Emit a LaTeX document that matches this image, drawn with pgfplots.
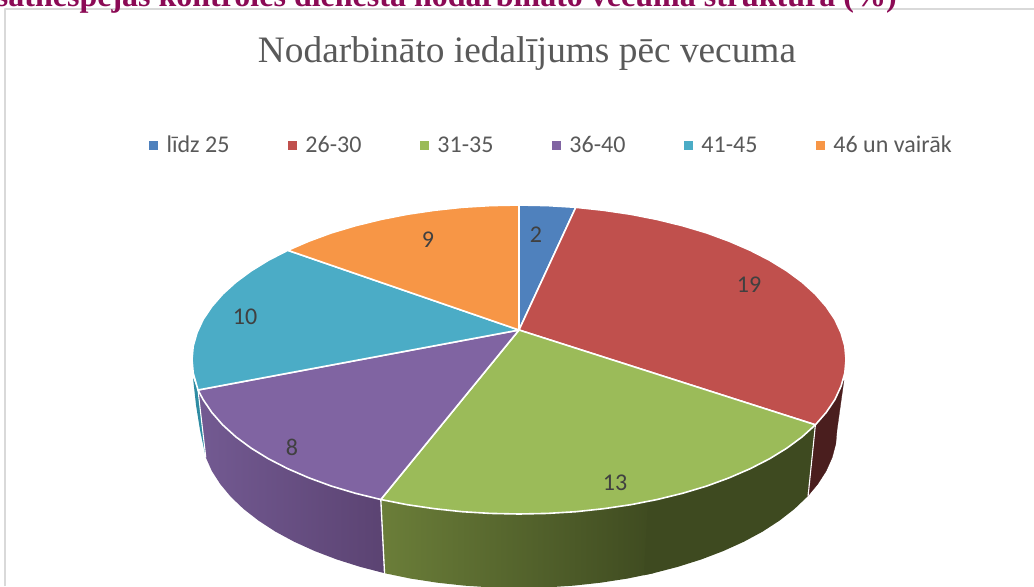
\documentclass[border=0pt]{standalone}
\usepackage{pgfplots}
\pgfplotsset{compat=1.18}
\usepackage{fontspec}
\setmainfont{Liberation Serif}
\newfontfamily\carlito{Carlito}
\definecolor{cblue}{HTML}{4F81BD}
\definecolor{cred}{HTML}{C0504D}
\definecolor{cgreen}{HTML}{9BBB59}
\definecolor{cpurple}{HTML}{8064A2}
\definecolor{cteal}{HTML}{4BACC6}
\definecolor{corange}{HTML}{F79646}
\definecolor{gdark}{HTML}{3E4A20}
\definecolor{glight}{HTML}{6B7E39}
\definecolor{pdark}{HTML}{5B4372}
\definecolor{plight}{HTML}{735A92}
\definecolor{rdark}{HTML}{4A1E1E}
\definecolor{tdark}{HTML}{2F8CA3}
\definecolor{txt}{HTML}{404040}
\tikzset{lab/.style={text=txt,font=\carlito\fontsize{18}{20}\selectfont}}
\begin{document}
\begin{tikzpicture}
\path[use as bounding box,clip] (0,0) rectangle (775.5pt,439.5pt);
\begin{axis}[
  at={(0,0)},anchor=south west,
  width=775.5pt,height=439.5pt,scale only axis,
  xmin=0,xmax=1034,ymin=0,ymax=586,y dir=reverse,
  axis lines=none,clip=true,
  legend columns=6,
  legend cell align=left,
  legend image code/.code={\path[#1,draw=none] (0pt,-3.2pt) rectangle (6.5pt,3.2pt);},
  legend style={at={(axis cs:149,145.5)},anchor=west,draw=none,fill=none,inner sep=0pt,
    font=\carlito\fontsize{18}{20}\selectfont,text=black!65,
    /tikz/every even column/.append style={column sep=42pt},
    /tikz/every odd column/.append style={column sep=4.5pt}},
]
% frame
\addplot[forget plot,draw=black!15,line width=1.5pt] coordinates {(5,586) (5,9) (1034,9)};
% walls
\addplot[forget plot,fill=rdark,draw=rdark,line width=.2pt] coordinates {(844,380) (841,386.3) (834.9,399.5) (826.3,412.3) (815.4,424.8) (807.2,496.8) (817.8,484) (826.2,470.9) (832.2,457.4) (835.8,443.8) (837,430) (844,380)};
\addplot[forget plot,left color=glight,right color=gdark,draw=none] coordinates {(657.2,499.5) (630.8,504.7) (603.6,508.7) (575.8,511.7) (547.5,513.4) (519,514) (490.5,513.4) (462.2,511.7) (434.4,508.7) (407.2,504.7) (380.8,499.5) (384.6,573.2) (410.2,578.5) (436.7,582.6) (463.8,585.6) (491.3,587.4) (519,588) (546.7,587.4) (574.2,585.6) (601.3,582.6) (627.8,578.5) (653.4,573.2) (657.2,499.5)};
\addplot[forget plot,fill=gdark,draw=none] coordinates {(815.4,424.8) (802.2,436.8) (786.9,448.1) (769.5,458.8) (750.2,468.7) (729.2,477.8) (706.6,486.1) (682.5,493.3) (657.2,499.5) (648,501.5) (644,575.2) (653.4,573.2) (678,566.8) (701.4,559.4) (723.4,551) (743.9,541.7) (762.6,531.6) (779.5,520.6) (794.4,509) (807.2,496.8) (815.4,424.8)};
\addplot[forget plot,left color=plight,right color=pdark,draw=none] coordinates {(380.8,499.5) (355.5,493.3) (331.4,486.1) (308.8,477.8) (287.8,468.7) (268.5,458.8) (251.1,448.1) (235.8,436.8) (222.6,424.8) (211.7,412.3) (203.1,399.5) (198,390) (205.8,457.4) (211.8,470.9) (220.2,484) (230.8,496.8) (243.6,509) (258.5,520.6) (275.4,531.6) (294.1,541.7) (314.6,551) (336.6,559.4) (360,566.8) (384.6,573.2) (380.8,499.5)};
\addplot[forget plot,fill=tdark,draw=none] coordinates {(193,378) (198,390) (205.8,457.4) (200,430) (196,405) (193,378)};
\addplot[forget plot,draw=white,line width=1pt] coordinates {(380.8,499.5) (384.6,574.5)};
\addplot[forget plot,draw=white,line width=.8pt] coordinates {(815.4,424.8) (808,497)};
\addplot[forget plot,draw=white,line width=.8pt] coordinates {(198,390) (205.8,457.4)};
% top faces
\pgfplotsset{every axis plot/.append style={draw=white,line width=1.2pt,line join=round}}
\addplot[fill=cblue] coordinates {(519,330) (519,205) (547.5,205.6) (575.8,207.3) (519,330)};
\addlegendentry{līdz 25}
\addplot[fill=cred] coordinates {(519,330) (575.8,207.3) (603.6,210.3) (630.8,214.3) (657.2,219.5) (682.5,225.7) (706.6,232.9) (729.2,241.2) (750.2,250.3) (769.5,260.2) (786.9,270.9) (802.2,282.2) (815.4,294.2) (826.3,306.7) (834.9,319.5) (841,332.7) (844.8,346) (846,359.5) (844.8,373) (841,386.3) (834.9,399.5) (826.3,412.3) (815.4,424.8) (519,330)};
\addlegendentry{26-30}
\addplot[fill=cgreen] coordinates {(519,330) (815.4,424.8) (802.2,436.8) (786.9,448.1) (769.5,458.8) (750.2,468.7) (729.2,477.8) (706.6,486.1) (682.5,493.3) (657.2,499.5) (630.8,504.7) (603.6,508.7) (575.8,511.7) (547.5,513.4) (519,514) (490.5,513.4) (462.2,511.7) (434.4,508.7) (407.2,504.7) (380.8,499.5) (519,330)};
\addlegendentry{31-35}
\addplot[fill=cpurple] coordinates {(519,330) (380.8,499.5) (355.5,493.3) (331.4,486.1) (308.8,477.8) (287.8,468.7) (268.5,458.8) (251.1,448.1) (235.8,436.8) (222.6,424.8) (211.7,412.3) (203.1,399.5) (198,390) (519,330)};
\addlegendentry{36-40}
\addplot[fill=cteal] coordinates {(519,330) (198,390) (193.2,373) (192,359.5) (193.2,346) (197,332.7) (203.1,319.5) (211.7,306.7) (222.6,294.2) (235.8,282.2) (251.1,270.9) (268.5,260.2) (287.8,250.3) (519,330)};
\addlegendentry{41-45}
\addplot[fill=corange] coordinates {(519,330) (287.8,250.3) (308.8,241.2) (331.4,232.9) (355.5,225.7) (380.8,219.5) (407.2,214.3) (434.4,210.3) (462.2,207.3) (490.5,205.6) (519,205) (519,330)};
\addlegendentry{46 un vairāk}
% data labels
\node[lab] at (axis cs:536,235) {2};
\node[lab] at (axis cs:749,285) {19};
\node[lab] at (axis cs:615,483) {13};
\node[lab] at (axis cs:292,447) {8};
\node[lab] at (axis cs:245,317) {10};
\node[lab] at (axis cs:428,240) {9};
% title
\node[text=black!65,font=\fontsize{28}{30}\selectfont] at (axis cs:527,54) {Nodarbināto iedalījums pēc vecuma};
% clipped heading
\node[anchor=base east,inner sep=0pt,text={rgb,255:red,139;green,10;blue,85},font=\bfseries\fontsize{24}{26}\selectfont] at (axis cs:897,6) {Maksātnespējas kontroles dienesta nodarbināto vecuma struktūra (\%)};
\end{axis}
\end{tikzpicture}
\end{document}
